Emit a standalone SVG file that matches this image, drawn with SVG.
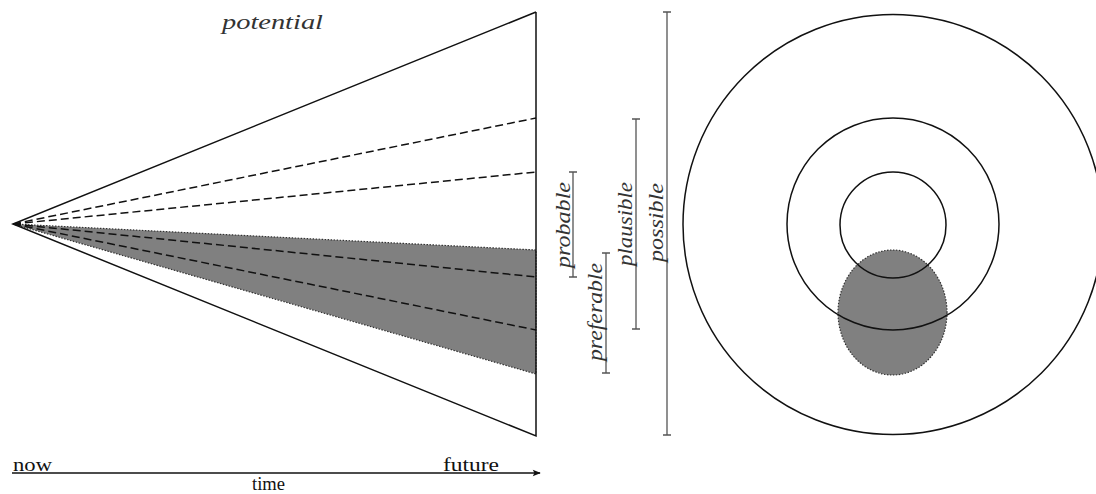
<svg xmlns="http://www.w3.org/2000/svg" width="1096" height="494" viewBox="0 0 1096 494">
<style>
.ln{stroke:#111;stroke-width:1.5;fill:none}
.ds{stroke:#111;stroke-width:1.5;fill:none;stroke-dasharray:8 4}
.sh{fill:#808080;stroke:#333;stroke-width:1.2;stroke-dasharray:1.5 1.5}
.br{stroke:#555;stroke-width:1.3;fill:none}
.lb{font-family:"Liberation Serif","DejaVu Serif",serif;font-style:italic;font-size:22px;fill:#333}
.tx{font-family:"Liberation Serif","DejaVu Serif",serif;font-size:19px;fill:#111}
</style>
<defs>
<marker id="ah" viewBox="0 0 10 10" refX="9" refY="5" markerWidth="14" markerHeight="8" markerUnits="userSpaceOnUse" orient="auto">
<path d="M0,1 L10,5 L0,9 L2,5 Z" fill="#111"/>
</marker>
</defs>
<g id="cone">
<polygon class="sh" points="13,224 536,250 536,374"/>
<polyline class="ln" points="536,12 13,224 536,436 536,12"/>
<line class="ds" x1="13" y1="224" x2="536" y2="118"/>
<line class="ds" x1="13" y1="224" x2="536" y2="172"/>
<line class="ds" x1="13" y1="224" x2="536" y2="277"/>
<line class="ds" x1="13" y1="224" x2="536" y2="330"/>
<text class="lb" x="222" y="29" font-size="25" textLength="101" lengthAdjust="spacingAndGlyphs">potential</text>
</g>
<g id="probable">
<path class="br" d="M573,172 V277 M569,172 H577 M569,277 H577"/>
<text class="lb" transform="translate(570,268) rotate(-90)" textLength="86" lengthAdjust="spacingAndGlyphs">probable</text>
</g>
<g id="preferable">
<path class="br" d="M606,253 V373 M602,253 H610 M602,373 H610"/>
<text class="lb" transform="translate(602,361) rotate(-90)" textLength="98" lengthAdjust="spacingAndGlyphs">preferable</text>
</g>
<g id="plausible">
<path class="br" d="M636,119 V329 M632,119 H640 M632,329 H640"/>
<text class="lb" transform="translate(632,266) rotate(-90)" textLength="84" lengthAdjust="spacingAndGlyphs">plausible</text>
</g>
<g id="possible">
<path class="br" d="M667,12 V435 M663,12 H671 M663,435 H671"/>
<text class="lb" transform="translate(663,262) rotate(-90)" textLength="79" lengthAdjust="spacingAndGlyphs">possible</text>
</g>
<g id="circles">
<ellipse class="sh" cx="892.5" cy="312.5" rx="54.5" ry="62.5"/>
<circle class="ln" cx="893" cy="224.5" r="210"/>
<circle class="ln" cx="893" cy="224" r="106"/>
<circle class="ln" cx="893" cy="225" r="53"/>
</g>
<g id="connectors">
<line x1="12" y1="473" x2="540" y2="473" stroke="#111" stroke-width="1.5" marker-end="url(#ah)"/>
</g>
<g id="axis-labels">
<text class="tx" x="13" y="471" textLength="39" lengthAdjust="spacingAndGlyphs">now</text>
<text class="tx" x="443" y="471" textLength="56" lengthAdjust="spacingAndGlyphs">future</text>
<text class="tx" x="252" y="490" font-size="14" textLength="33" lengthAdjust="spacingAndGlyphs">time</text>
</g>
</svg>
